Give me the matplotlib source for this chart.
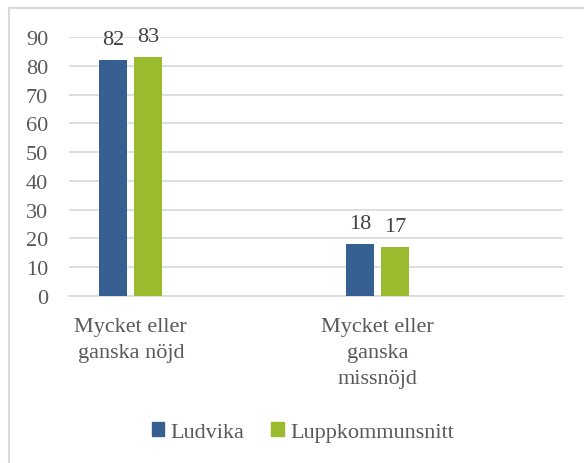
import matplotlib
matplotlib.use("Agg")
import matplotlib.pyplot as plt
from matplotlib.patches import Rectangle, Patch

categories = ["Mycket eller\nganska nöjd", "Mycket eller\nganska\nmissnöjd"]
series_names = ["Ludvika", "Luppkommunsnitt"]
ludvika = [82, 18]
lupp = [83, 17]
yticks = [0, 10, 20, 30, 40, 50, 60, 70, 80, 90]

colors = ["#376092", "#9BBB2F"]
text_col = "#595959"
font = ["Liberation Serif", "DejaVu Serif"]
plt.rcParams["font.family"] = font

W, H = 584, 464
fig = plt.figure(figsize=(W / 100, H / 100), dpi=100)
fig.patch.set_facecolor("white")
# outer chart border (top and left visible)
fig.patches.append(Rectangle((8.5 / W, -0.1), 1.2, (H - 9) / H + 0.1,
                             transform=fig.transFigure, fill=False,
                             edgecolor="#D9D9D9", linewidth=1.5))

ax = fig.add_axes([69 / W, (H - 297) / H, (563 - 69) / W, (297 - 38) / H])
pos = [0, 2]
off = 17.5 / 123.5
bw = 28 / 123.5
b1 = ax.bar([p - off for p in pos], ludvika, bw, color=colors[0], label=series_names[0], zorder=3)
b2 = ax.bar([p + off for p in pos], lupp, bw, color=colors[1], label=series_names[1], zorder=3)
for bars, vals in ((b1, ludvika), (b2, lupp)):
    for r, v in zip(bars, vals):
        ax.text(r.get_x() + r.get_width() / 2, v + 5.5, str(v), ha="center", va="baseline",
                fontsize=16, color="#404040")

ax.set_xlim(-0.5, 3.5)
ax.set_ylim(0, 90)
ax.set_yticks(yticks)
ax.set_xticks(pos)
ax.set_xticklabels(categories, fontsize=16, color=text_col, linespacing=1.5)
ax.tick_params(axis="y", labelsize=16, labelcolor=text_col, length=0, pad=15)
ax.tick_params(axis="x", length=0, pad=15)
ax.grid(axis="y", color="#D9D9D9", linewidth=1.2, zorder=0)
for s in ["top", "right", "left"]:
    ax.spines[s].set_visible(False)
ax.spines["bottom"].set_color("#D9D9D9")
ax.spines["bottom"].set_linewidth(1.2)

handles = [Patch(color=colors[0], label=series_names[0]), Patch(color=colors[1], label=series_names[1])]
leg = fig.legend(handles=handles, loc="center", bbox_to_anchor=(303 / W, (H - 433) / H), ncol=2,
                 frameon=False, fontsize=16, handlelength=0.55, handleheight=0.55,
                 handletextpad=0.3, columnspacing=1.2)
for t in leg.get_texts():
    t.set_color(text_col)

fig.savefig("out.png", dpi=100, facecolor="white")
